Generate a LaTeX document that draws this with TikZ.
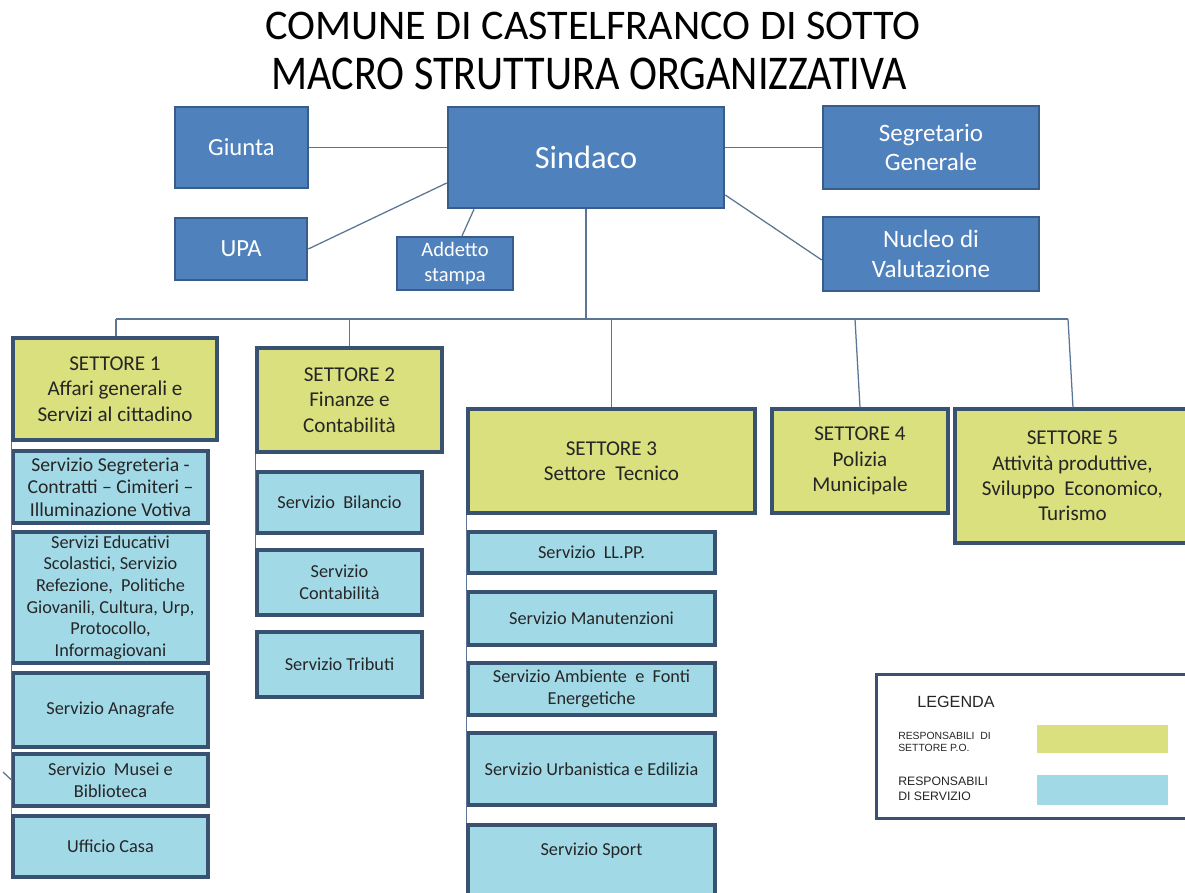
\documentclass[tikz,border=0pt]{standalone}
\usepackage{fontspec}
\setmainfont{Carlito}
\newfontfamily\legfont{Liberation Sans}

\definecolor{topblue}{HTML}{4F81BD}
\definecolor{topedge}{HTML}{385D8A}
\definecolor{setyellow}{HTML}{D9E07D}
\definecolor{svcblue}{HTML}{A2D9E7}
\definecolor{boxedge}{HTML}{3A5272}
\definecolor{linkgray}{HTML}{5B7594}
\definecolor{txtdark}{HTML}{262626}

\tikzset{
    boxw/.style={minimum width=#1*0.025cm},
    boxh/.style={minimum height=#1*0.025cm}
}

\begin{document}
\begin{tikzpicture}[
        x=0.025cm, y=-0.025cm,
        organo/.style={rectangle, draw=topedge, line width=1.8pt, fill=topblue, text=white, align=center, inner sep=0pt, font=\fontsize{17.8}{21.3}\selectfont},
        settore/.style={rectangle, draw=boxedge, line width=2.2pt, fill=setyellow, text=txtdark, align=center, inner sep=0pt, font=\fontsize{15}{18}\selectfont},
        servizio/.style={rectangle, draw=boxedge, line width=2.2pt, fill=svcblue, text=txtdark, align=center, inner sep=0pt, font=\fontsize{13}{15.4}\selectfont},
        link/.style={draw=linkgray, line width=0.9pt}
    ]
        \useasboundingbox (0,0) rectangle (1185,893);
        \clip (0,0) rectangle (1185,893);

        % Titolo
        \node[anchor=base, font=\fontsize{30}{32}\selectfont] (titolo1) at (593,40) {COMUNE DI CASTELFRANCO DI SOTTO};
        \node[anchor=base, font=\fontsize{30}{32}\selectfont, transform shape, yscale=1.15] (titolo2) at (589,90) {MACRO STRUTTURA ORGANIZZATIVA};

        % Organi
        \node[organo, boxw=133, boxh=81, font=\fontsize{17.5}{21}\selectfont] (giunta) at (241.5,147.5) {Giunta};
        \node[organo, boxw=276, boxh=101, font=\fontsize{23}{27}\selectfont] (sindaco) at (586,157.5) {Sindaco};
        \node[organo, boxw=216, boxh=83] (segretario) at (931,147.5) {Segretario\\Generale};
        \node[organo, boxw=132, boxh=62, font=\fontsize{17.5}{21}\selectfont] (upa) at (241,249) {UPA};
        \node[organo, boxw=116, boxh=53, line width=1.5pt, font=\fontsize{14.6}{17.8}\selectfont] (addetto) at (455,263.5) {Addetto\\stampa};
        \node[organo, boxw=216, boxh=74] (nucleo) at (931,254) {Nucleo di\\Valutazione};

        % Settori
        \node[settore, boxw=204, boxh=102] (set1) at (115,389) {SETTORE 1\\Affari generali e\\Servizi al cittadino};
        \node[settore, boxw=185, boxh=104] (set2) at (349.5,400) {SETTORE 2\\Finanze e\\Contabilità};
        \node[settore, boxw=287, boxh=104] (set3) at (611.5,461) {SETTORE 3\\Settore\ \ Tecnico};
        \node[settore, boxw=176, boxh=104] (set4) at (860,461) {SETTORE 4\\Polizia\\Municipale};
        \node[settore, boxw=235, boxh=134] (set5) at (1072.5,476) {SETTORE 5\\Attività produttive,\\Sviluppo\ \ Economico,\\Turismo};

        % Servizi settore 1
        \node[servizio, boxw=195, boxh=72, font=\fontsize{14}{16}\selectfont] (segreteria) at (110.5,487) {Servizio Segreteria -\\Contratti -- Cimiteri --\\Illuminazione Votiva};
        \node[servizio, boxw=195, boxh=131] (educativi) at (110.5,597.5) {Servizi Educativi\\Scolastici, Servizio\\Refezione,\ \ Politiche\\Giovanili, Cultura, Urp,\\Protocollo,\\Informagiovani};
        \node[servizio, boxw=195, boxh=74] (anagrafe) at (110.5,710) {Servizio Anagrafe};
        \node[servizio, boxw=195, boxh=52] (musei) at (110.5,780) {Servizio\ \ Musei e\\Biblioteca};
        \node[servizio, boxw=195, boxh=61] (casa) at (110.5,846.5) {Ufficio Casa};

        % Servizi settore 2
        \node[servizio, boxw=165, boxh=61] (bilancio) at (339.5,502.5) {Servizio\ \ Bilancio};
        \node[servizio, boxw=165, boxh=65] (contabilita) at (339.5,582.5) {Servizio\\Contabilità};
        \node[servizio, boxw=165, boxh=65] (tributi) at (339.5,664.5) {Servizio Tributi};

        % Servizi settore 3
        \node[servizio, boxw=247, boxh=41] (llpp) at (591.5,552.5) {Servizio\ \ LL.PP.};
        \node[servizio, boxw=247, boxh=53] (manutenzioni) at (591.5,618.5) {Servizio Manutenzioni};
        \node[servizio, boxw=247, boxh=52] (ambiente) at (591.5,689) {Servizio Ambiente\ \ e\ \ Fonti\\Energetiche};
        \node[servizio, boxw=247, boxh=72] (urbanistica) at (591.5,769) {Servizio Urbanistica e Edilizia};
        \node[servizio, boxw=247, boxh=74, text depth=0.65cm] (sport) at (591.5,862) {Servizio Sport};

        % Legenda
        \node[rectangle, draw=boxedge, line width=2.2pt, fill=white, anchor=north west, boxw=320, boxh=144] (legenda) at (875,673) {};
        \node[font=\legfont\fontsize{11.5}{13}\selectfont, text=txtdark] (legtitolo) at (956,702) {LEGENDA};
        \node[anchor=west, align=left, inner sep=0pt, font=\legfont\fontsize{7.4}{8.6}\selectfont, text=txtdark] (legset) at (898,742) {RESPONSABILI\ \ DI\\SETTORE P.O.};
        \node[anchor=west, align=left, inner sep=0pt, font=\legfont\fontsize{8.7}{10.4}\selectfont, text=txtdark] (legsvc) at (898,789) {RESPONSABILI\\DI SERVIZIO};
        \node[rectangle, fill=setyellow, anchor=north west, inner sep=0pt, boxw=131, boxh=28] (swset) at (1037,725) {};
        \node[rectangle, fill=svcblue, anchor=north west, inner sep=0pt, boxw=131, boxh=30] (swsvc) at (1037,775) {};

        % Collegamenti organi
        \draw[link] (giunta.east) -- (giunta.east -| sindaco.west);
        \draw[link] (upa.east) -- ([shift={(0,25.5)}]sindaco.west);
        \draw[link] ([shift={(-112,0)}]sindaco.south) -- ([shift={(7,0)}]addetto.north);
        \draw[link] (sindaco.east |- segretario.west) -- (segretario.west);
        \draw[link] ([shift={(0,37.5)}]sindaco.east) -- ([shift={(0,6)}]nucleo.west);

        % Collegamenti settori
        \coordinate (busL) at (116,319);
        \coordinate (busR) at (1068,319);
        \coordinate (bus4) at (855,319);
        \draw[link] (sindaco.south) -- (sindaco.south |- busL);
        \draw[link] (busL) -- (busR);
        \draw[link] (busL) -- (busL |- set1.north);
        \draw[link] (set2.north |- busL) -- (set2.north);
        \draw[link] (set3.north |- busL) -- (set3.north);
        \draw[link] (bus4) -- (set4.north);
        \draw[link] (busR) -- ([shift={(0.5,0)}]set5.north);

        % Collegamenti servizi
        \draw[link] (set1.south west) -- (casa.north west);
        \draw[link] (set2.south west) -- (contabilita.north west);
        \draw[link] (set3.south west) -- (sport.north west);
        \coordinate (stray) at (3,772);
        \draw[link] (stray) -- (musei.west);

    \end{tikzpicture}
\end{document}
